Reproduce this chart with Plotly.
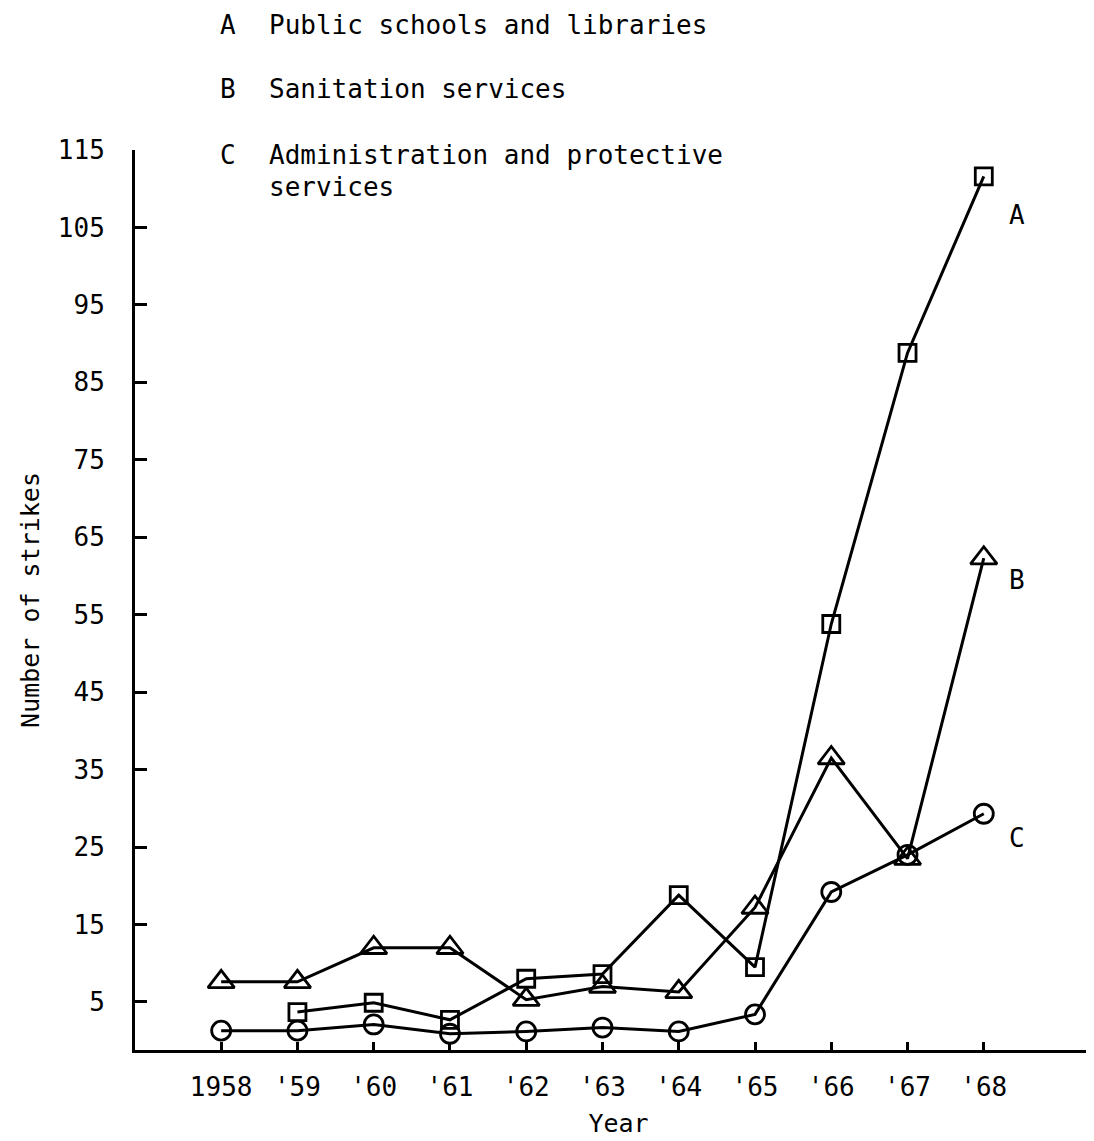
import plotly.graph_objects as go

years = [1958, 1959, 1960, 1961, 1962, 1963, 1964, 1965, 1966, 1967, 1968]
year_labels = ["1958", "'59", "'60", "'61", "'62", "'63", "'64", "'65", "'66", "'67", "'68"]

# A - public schools and libraries (no 1958 point)
schools = [None, 3.7, 4.9, 2.7, 8.0, 8.6, 18.8, 9.5, 53.8, 88.8, 111.6]
# B - sanitation services
sanitation = [7.6, 7.6, 12.0, 12.0, 5.3, 7.0, 6.3, 17.2, 36.5, 23.5, 62.3]
# C - administration and protective services
admin = [1.3, 1.3, 2.1, 0.9, 1.2, 1.7, 1.2, 3.4, 19.2, 24.0, 29.3]

y_ticks = [5, 15, 25, 35, 45, 55, 65, 75, 85, 95, 105, 115]

FONT = "DejaVu Sans Mono"

fig = go.Figure()

series = [
    ("A", schools, "square-open", 17),
    ("B", sanitation, "triangle-up-open", 23),
    ("C", admin, "circle-open", 19),
]
for name, vals, sym, size in series:
    fig.add_trace(go.Scatter(
        x=years, y=vals, name=name, mode="lines+markers",
        line=dict(color="black", width=3),
        marker=dict(symbol=sym, size=size, color="black",
                    line=dict(color="black", width=2.8)),
        cliponaxis=False, connectgaps=False,
    ))

# end-of-line letters
for txt, yv in [("A", 106.6), ("B", 59.5), ("C", 26.2)]:
    fig.add_annotation(x=1968.3, y=yv, text=txt, showarrow=False,
                       xanchor="left", font=dict(family=FONT, size=26, color="black"))

# key in the top left (positions measured in page pixels)
key = [
    ("A", "Public schools and libraries", 25),
    ("B", "Sanitation services", 89),
    ("C", "Administration and protective", 155),
    ("", "services", 187),
]
plot_w = 1094 - 127
for letter, txt, py in key:
    yp = (1050 - py) / 900
    if letter:
        fig.add_annotation(x=(226 - 133) / plot_w, y=yp, xref="paper", yref="paper",
                           text=letter, showarrow=False, xanchor="center", yanchor="middle",
                           font=dict(family=FONT, size=26, color="black"))
    fig.add_annotation(x=(265 - 133) / plot_w, y=yp, xref="paper", yref="paper",
                       text=txt, showarrow=False, xanchor="left", yanchor="middle",
                       font=dict(family=FONT, size=26, color="black"))

fig.update_layout(
    width=1094, height=1141,
    margin=dict(l=127, r=0, t=142, b=99),
    paper_bgcolor="white", plot_bgcolor="white",
    showlegend=False,
    font=dict(family=FONT, size=26, color="black"),
)
fig.update_xaxes(
    range=[1956.87, 1969.55], tickvals=years, ticktext=year_labels,
    showline=True, linecolor="black", linewidth=3, showgrid=False, zeroline=False,
    ticks="inside", ticklen=8, tickwidth=2.5, tickcolor="black",
    ticklabelstandoff=12, automargin=False,
    title=dict(text="Year", standoff=14, font=dict(family=FONT, size=25)),
)
fig.update_yaxes(
    range=[-1.2, 115], tickvals=y_ticks,
    showline=True, linecolor="black", linewidth=3, showgrid=False, zeroline=False,
    ticks="inside", ticklen=12, tickwidth=3, tickcolor="black",
    ticklabelstandoff=22, automargin=False,
    title=dict(text="Number of strikes", standoff=12, font=dict(family=FONT, size=25)),
)

fig.write_html("out.html")
